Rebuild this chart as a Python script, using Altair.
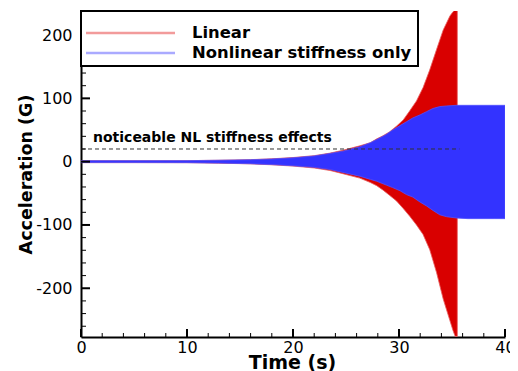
import altair as alt
import pandas as pd

# ---- data (envelopes of the oscillating signals) ----
time_lin = [0, 5, 10, 13, 16, 18, 20, 22, 23.5, 24.7, 26.3, 27.3, 27.9, 28.5, 29.1,
            29.76, 30.4, 31.0, 31.65, 32.27, 32.9, 33.54, 34.17, 34.8, 35.1, 35.3, 35.5]
lin_upper = [1.5, 1.5, 1.6, 2.2, 3.2, 4.5, 6.5, 9.5, 13.5, 18, 25, 30, 36, 41, 47,
             56, 66, 80, 96, 117, 145, 177, 208, 230, 237, 240, 240]
lin_lower = [-1.5, -1.5, -1.6, -2.4, -3.5, -5, -7, -10, -14, -19, -26, -33, -38, -45, -53,
             -62, -74, -86, -100, -115, -139, -175, -217, -251, -267, -276, -276]

time_nl = [0, 5, 10, 13, 16, 18, 20, 22, 23.5, 24.7, 26.3, 27.3, 27.9, 28.8, 29.4,
           30.1, 30.7, 31.3, 32.0, 32.6, 33.2, 33.85, 34.5, 35.4, 36.5, 38, 39, 40]
nl_upper = [1.5, 1.5, 1.6, 2.2, 3, 4.2, 6, 9, 13, 16.5, 23.5, 30, 35, 43, 50,
            57, 63, 69, 74, 79, 84, 87, 88, 89, 89, 89, 89, 89]
nl_lower = [-1.5, -1.5, -1.6, -2.3, -3.3, -4.6, -6.5, -9, -12.5, -17, -23, -28, -31, -37, -41,
            -46, -52, -56, -64, -70, -77, -84, -87, -89, -90, -90, -90, -90]

series_names = ["Linear", "Nonlinear stiffness only"]
x_major = [0, 10, 20, 30, 40]
x_minor = [v for v in range(0, 41, 2) if v % 10 != 0]
y_major = [-200, -100, 0, 100, 200]
y_minor = [v for v in range(-260, 240, 20) if v % 100 != 0]
threshold_value = [20]
threshold_span = [0, 35.7]
annotation = "noticeable NL stiffness effects"

# ---- styling ----
W, H = 424, 326
RED, BLUE = "#d90000", "#3333ff"
FONT = "DejaVu Sans"

xs = alt.Scale(domain=[0, 40], nice=False, zero=False)
ys = alt.Scale(domain=[-277, 238], nice=False, zero=False)

x_axis = alt.Axis(values=x_major, title="Time (s)", ticks=False, grid=False,
                  labelFlush=False, labelPadding=2, labelFontSize=16, labelFont=FONT,
                  labelColor="black", domainColor="black", domainWidth=2,
                  titleFont=FONT, titleFontSize=19, titleFontWeight="bold",
                  titleColor="black", titleX=211, titleY=31, titleBaseline="alphabetic")
y_axis = alt.Axis(values=y_major, title="Acceleration (G)", ticks=False, grid=False,
                  labelFlush=False, labelPadding=9, labelFontSize=16, labelFont=FONT,
                  labelColor="black", domainColor="black", domainWidth=2,
                  labelExpr="toString(datum.value)",
                  titleFont=FONT, titleFontSize=17.5, titleFontWeight="bold",
                  titleColor="black", titleX=-50, titleY=H / 2, titleAngle=-90,
                  titleBaseline="alphabetic", titleAlign="center")

lin_df = pd.DataFrame({"t": time_lin, "hi": lin_upper, "lo": lin_lower})
nl_df = pd.DataFrame({"t": time_nl, "hi": nl_upper, "lo": nl_lower})

red = alt.Chart(lin_df).mark_area(color=RED, opacity=1, clip=True,
                                  stroke="#e86060", strokeWidth=0.8).encode(
    x=alt.X("t:Q", scale=xs, axis=x_axis),
    y=alt.Y("lo:Q", scale=ys, axis=y_axis),
    y2="hi:Q",
)
blue = alt.Chart(nl_df).mark_area(color=BLUE, opacity=1, clip=True,
                                  stroke="#5050ff", strokeWidth=0.8).encode(
    x=alt.X("t:Q", scale=xs),
    y=alt.Y("lo:Q", scale=ys),
    y2="hi:Q",
)

thr_df = pd.DataFrame({"x0": [threshold_span[0]], "x1": [threshold_span[1]], "y": threshold_value})
dashed = alt.Chart(thr_df).mark_rule(color="#333333", strokeWidth=1, strokeDash=[4, 3]).encode(
    x=alt.X("x0:Q", scale=xs), x2="x1:Q", y=alt.Y("y:Q", scale=ys))

ann_df = pd.DataFrame({"label": [annotation]})
ann = alt.Chart(ann_df).mark_text(align="left", baseline="alphabetic", font=FONT,
                                  fontSize=14, fontWeight="bold", color="black").encode(
    x=alt.value(12), y=alt.value(131), text="label:N")

# inward ticks
def xticks(vals, length, width):
    return alt.Chart(pd.DataFrame({"v": vals})).mark_rule(color="black", strokeWidth=width).encode(
        x=alt.X("v:Q", scale=xs), y=alt.value(H), y2=alt.value(H - length))

def yticks(vals, length, width):
    return alt.Chart(pd.DataFrame({"v": vals})).mark_rule(color="black", strokeWidth=width).encode(
        y=alt.Y("v:Q", scale=ys), x=alt.value(0), x2=alt.value(length))

ticks = [xticks(x_major, 8, 2), xticks(x_minor, 4, 1),
         yticks(y_major, 9, 2), yticks(y_minor, 5, 1)]

# legend box
one = pd.DataFrame({"k": [0]})
box = alt.Chart(one).mark_rect(fill="white", stroke="black", strokeWidth=2).encode(
    x=alt.value(0), x2=alt.value(337), y=alt.value(0), y2=alt.value(55))
leg_layers = []
for i, (name, col) in enumerate(zip(series_names, ["#f29b9b", "#aaaaff"])):
    yy = 22 + 20 * i
    d = pd.DataFrame({"name": [name]})
    leg_layers.append(alt.Chart(d).mark_rule(color=col, strokeWidth=2.5).encode(
        x=alt.value(5), x2=alt.value(94), y=alt.value(yy)))
    leg_layers.append(alt.Chart(d).mark_text(align="left", baseline="middle", font=FONT,
                                             fontSize=16.4, fontWeight="bold", color="black").encode(
        x=alt.value(111), y=alt.value(yy), text="name:N"))

chart = alt.layer(red, blue, dashed, ann, *ticks, box, *leg_layers).properties(
    width=W, height=H,
    autosize=alt.AutoSizeParams(type="none"),
    padding={"left": 73, "top": 3, "right": 5, "bottom": 35},
    background="white",
).configure_view(stroke=None)

chart.save("out.html", embed_options={"renderer": "svg", "actions": False})
